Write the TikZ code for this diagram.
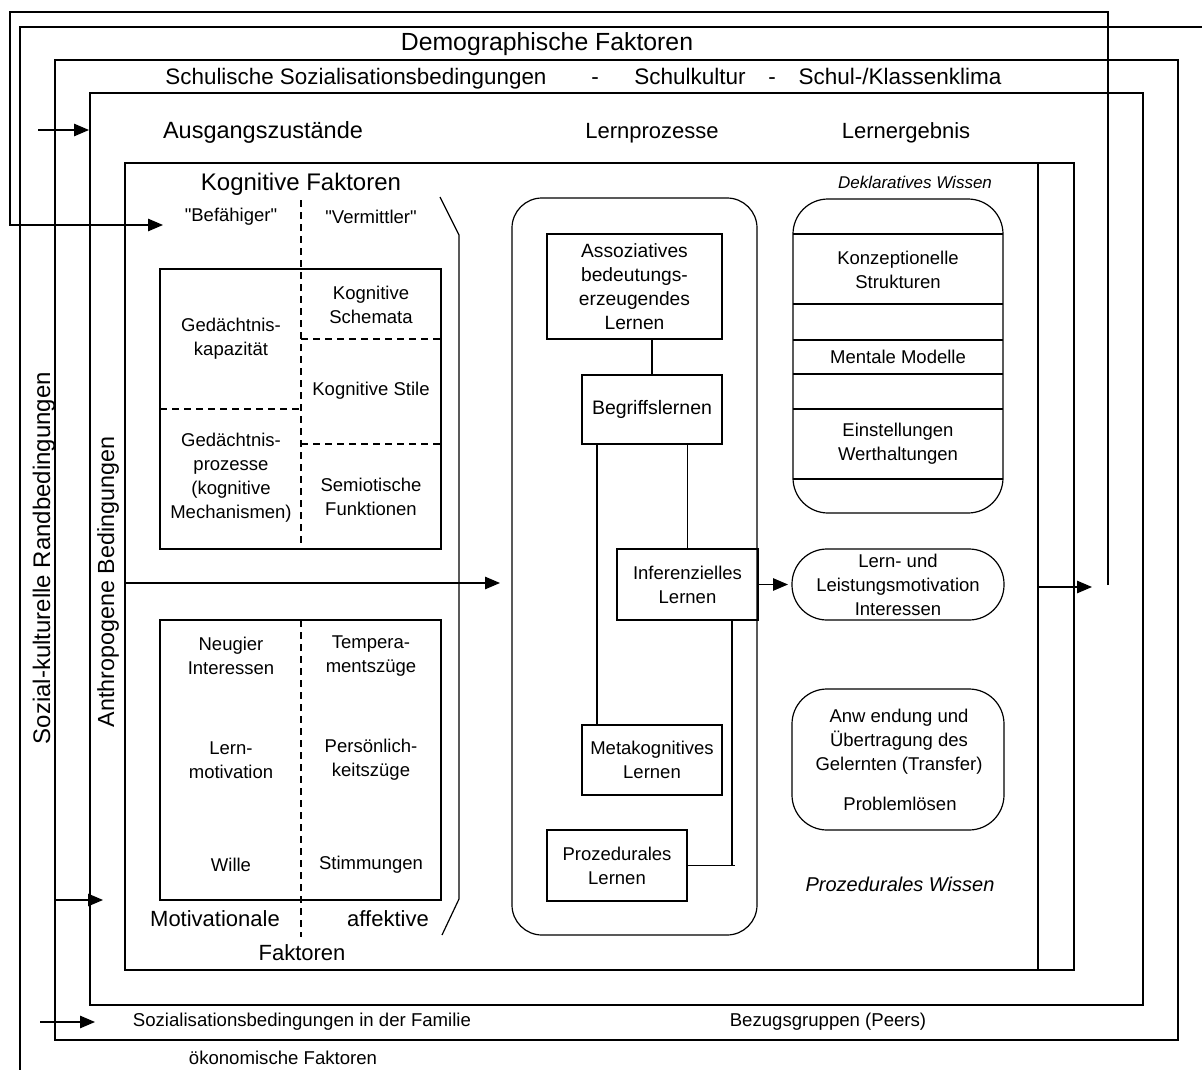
\documentclass[tikz,border=0pt]{standalone}
\usepackage{fontspec}
\setmainfont{Liberation Sans}
\newfontfamily\plainsans{Liberation Sans}
\usetikzlibrary{arrows.meta}
\begin{document}
\begin{tikzpicture}[x=1pt,y=-1pt,
  line width=1.2pt,
  every node/.style={inner sep=0pt, outer sep=0pt, align=center},
  head/.style={font=\fontsize{22.5}{27}\selectfont},
  txt/.style={font=\fontsize{18.5}{24}\selectfont},
  lbl/.style={font=\fontsize{18.6}{22}\selectfont},
  itx/.style={font=\fontsize{18}{22}\selectfont\itshape},
  box/.style={draw, rectangle, anchor=north west, font=\fontsize{18.5}{24}\selectfont},
  rbox/.style={draw, rectangle, anchor=north west, font=\fontsize{18.5}{24}\selectfont},
  arr/.style={-{Triangle[length=15pt,width=12.5pt]}},
  dsh/.style={dash pattern=on 7pt off 5pt},
]
\useasboundingbox (0,0) rectangle (1202,1070);

% ---- coordinates for free ends
\coordinate (fbTop) at (1108,585);
\coordinate (befIn) at (163,225);
\coordinate (ausA) at (38,130);   \coordinate (ausB) at (89,130);
\coordinate (motA) at (55,900);   \coordinate (motB) at (103,900);
\coordinate (famA) at (40,1022);  \coordinate (famB) at (95,1022);
\coordinate (antA) at (125,583);  \coordinate (antB) at (500,583);
\coordinate (resA) at (1038,587); \coordinate (resB) at (1092,587);

% ---- frames
\draw (1202,27) -- (20,27) -- (20,1070);
\draw (55,60) rectangle (1178,1040);
\draw (90,93) rectangle (1143,1005);
\draw (125,163) rectangle (1074,970);
\draw (1038,163) -- (1038,970);

% feedback loop
\draw[arr] (fbTop) -- (1108,12) -- (10,12) -- (10,225) -- (befIn);

% ---- headings
\node[head, font=\fontsize{24.8}{28}\selectfont, anchor=base] (demo) at (547,50.5) {Demographische Faktoren};
\node[head, font=\fontsize{22.4}{27}\selectfont, anchor=base] (schul1) at (356,84.5) {Schulische Sozialisationsbedingungen};
\node[head, anchor=base] (dash1) at (595,84.5) {-};
\node[head, anchor=base] (schul2) at (690,84.5) {Schulkultur};
\node[head, anchor=base] (dash2) at (772,84.5) {-};
\node[head, anchor=base] (schul3) at (900,84.5) {Schul-/Klassenklima};
\node[head, font=\fontsize{23.5}{27}\selectfont, anchor=base] (ausg) at (263,138.5) {Ausgangszustände};
\node[head, font=\fontsize{22}{27}\selectfont, anchor=base] (lproz) at (652,138.5) {Lernprozesse};
\node[head, font=\fontsize{22}{27}\selectfont, anchor=base] (lerg) at (906,138.5) {Lernergebnis};
\node[head, font=\fontsize{24}{28}\selectfont, anchor=base] (kogf) at (301,190.5) {Kognitive Faktoren};
\node[head, font=\fontsize{22}{27}\selectfont, anchor=base] (motf) at (215,926.5) {Motivationale};
\node[head, font=\fontsize{22}{27}\selectfont, anchor=base] (afff) at (388,926.5) {affektive};
\node[head, font=\fontsize{22}{27}\selectfont, anchor=base] (fakf) at (302,960.5) {Faktoren};
\node[head, font=\fontsize{24}{28}\selectfont, rotate=90] (sozk) at (44,558) {Sozial-kulturelle Randbedingungen};
\node[head, font=\fontsize{23.3}{28}\selectfont, rotate=90] (anth) at (108,582) {Anthropogene Bedingungen};

\node[lbl] (fam) at (302,1022) {Sozialisationsbedingungen in der Familie};
\node[lbl] (peer) at (828,1022) {Bezugsgruppen (Peers)};
\node[lbl] (oek) at (283,1058) {ökonomische Faktoren};

% ---- left arrows
\draw[arr] (ausA) -- (ausB);
\draw[arr] (motA) -- (motB);
\draw[arr] (famA) -- (famB);
\draw[arr] (antA) -- (antB);

% ---- cognitive factors
\node[txt] (bef) at (231,217) {\plainsans "Befähiger"};
\node[txt] (ver) at (371,217) {\plainsans "Vermittler"};
\node[draw, anchor=north west, minimum width=281pt, minimum height=280pt] (cogbox) at (160,269) {};
\draw[dsh] (301,200) -- (301,549);
\draw[dsh] (160,409) -- (301,409);
\draw[dsh] (301,339) -- (441,339);
\draw[dsh] (301,444) -- (441,444);
\node[txt] (gk) at (231,339) {Gedächtnis-\\kapazität};
\node[txt] (ks) at (371,305) {Kognitive\\Schemata};
\node[txt] (kst) at (371,391) {Kognitive Stile};
\node[txt] (gp) at (231,478) {Gedächtnis-\\prozesse\\(kognitive\\Mechanismen)};
\node[txt] (sf) at (371,497) {Semiotische\\Funktionen};
\draw (440,197) -- (459,235) -- (459,899) -- (442,935);

% ---- motivational factors
\node[draw, anchor=north west, minimum width=281pt, minimum height=280pt] (motbox) at (160,620) {};
\draw[dsh] (301,620) -- (301,937);
\node[txt] (neu) at (231,656) {Neugier\\Interessen};
\node[txt] (tem) at (371,656) {Tempera-\\mentszüge};
\node[txt] (lmo) at (231,760) {Lern-\\motivation};
\node[txt] (per) at (371,760) {Persönlich-\\keitszüge};
\node[txt] (wil) at (231,865) {Wille};
\node[txt] (sti) at (371,865) {Stimmungen};

% ---- learning processes
\node[rbox, rounded corners=30pt, minimum width=245pt, minimum height=737pt] (proc) at (512,198) {};
\node[box, minimum width=175pt, minimum height=105pt, font=\fontsize{19.2}{24}\selectfont] (asso) at (547,234) {Assoziatives\\bedeutungs-\\erzeugendes\\Lernen};
\node[box, minimum width=140pt, minimum height=69pt, font=\fontsize{19.5}{24}\selectfont] (begr) at (582,375) {Begriffslernen};
\node[box, minimum width=141pt, minimum height=71pt] (infer) at (617,549) {Inferenzielles\\Lernen};
\node[box, minimum width=140pt, minimum height=70pt] (meta) at (582,725) {Metakognitives\\Lernen};
\node[box, minimum width=140pt, minimum height=71pt] (proz) at (547,830) {Prozedurales\\Lernen};

\draw (begr.north) -- (begr.north |- asso.south);
\draw ([xshift=15pt]begr.south west) -- ([xshift=15pt]meta.north west);
\draw (infer.north) -- (infer.north |- begr.south);
\draw ([xshift=-26pt]infer.south east) -- ([xshift=-26pt]infer.south east |- proz.east) -- (proz.east);
\draw (proz.east) -- ++(48,0);

% ---- learning results
\node[itx, font=\fontsize{17}{21}\selectfont\itshape] (deklw) at (915,182) {Deklaratives Wissen};
\node[rbox, rounded corners=35pt, minimum width=210pt, minimum height=314pt] (dekl) at (793,199) {};
\foreach \yy in {234,304,340,374,409,479} \draw (793,\yy) -- (1003,\yy);
\node[txt] (konz) at (898,269.5) {Konzeptionelle\\Strukturen};
\node[txt] (ment) at (898,357) {Mentale Modelle};
\node[txt] (einst) at (898,444) {Einstellungen\\Werthaltungen};

\node[rbox, rounded corners=35pt, minimum width=212pt, minimum height=71pt] (motiv) at (792,549) {Lern- und\\Leistungsmotivation\\Interessen};
\node[rbox, rounded corners=35pt, minimum width=212pt, minimum height=141pt] (anw) at (792,689) {};
\node[txt] (anwt) at (899,742) {Anw endung und\\Übertragung des\\Gelernten (Transfer)};
\node[txt] (prob) at (900,804) {Problemlösen};
\node[itx, font=\fontsize{20}{24}\selectfont\itshape] (prozw) at (900,884) {Prozedurales Wissen};

\draw[arr, shorten >=4pt] (infer.east) -- (motiv.west);
\draw[arr] (resA) -- (resB);
\end{tikzpicture}
\end{document}
